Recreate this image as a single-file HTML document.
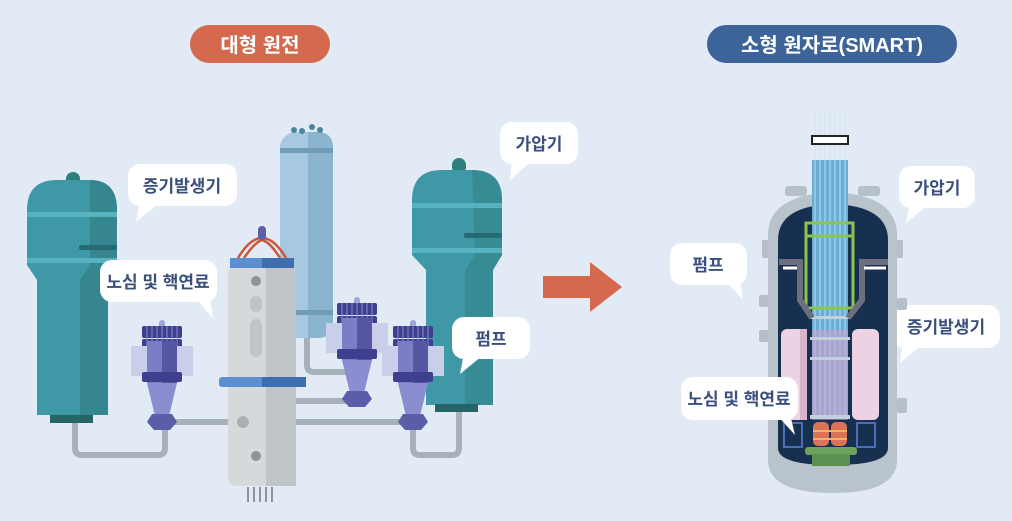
<!DOCTYPE html>
<html><head><meta charset="utf-8"><style>
html,body{margin:0;padding:0;background:#e2ebf5;}
svg{display:block}
text{font-family:"Liberation Sans","Noto Sans CJK KR",sans-serif;font-weight:bold;}
</style></head><body>
<svg width="1012" height="521" viewBox="0 0 1012 521" xmlns="http://www.w3.org/2000/svg">
<defs>
<g id="pump">
<rect x="-3" y="-6" width="6" height="12" rx="3" fill="#9ea5d8"/>
<rect x="-20" y="0" width="40" height="12" rx="2" fill="#3f3f8f"/>
<rect x="-20" y="13" width="40" height="12" rx="2" fill="#3f3f8f"/>
<g stroke="#8a8ed0" stroke-width="1"><path d="M-15 0v25M-10 0v25M-5 0v25M0 0v25M5 0v25M10 0v25M15 0v25"/></g>
<rect x="-31" y="20" width="62" height="30" fill="#c9cfea"/>
<rect x="-15" y="15" width="30" height="42" fill="#7b7ec4"/>
<rect x="0" y="15" width="15" height="42" fill="#5656a3"/>
<rect x="-20" y="46" width="40" height="10" rx="2" fill="#3f3f8f"/>
<path d="M-15 57 H15 L7 90 H-7 Z" fill="#8a8ed0"/>
<path d="M-10 88 H10 L15 96 L8 104 H-8 L-15 96 Z" fill="#5b5da9"/>
</g>
</defs>
<rect width="1012" height="521" fill="#e2ebf5"/>
<!-- title pills -->
<rect x="190" y="25" width="140" height="38" rx="19" fill="#d5694e"/>
<text x="260" y="52" font-size="20" fill="#fff" text-anchor="middle">대형 원전</text>
<rect x="707" y="25" width="250" height="38" rx="19" fill="#3d6498"/>
<text x="832" y="52" font-size="20" fill="#fff" text-anchor="middle">소형 원자로(SMART)</text>

<!-- pipes left -->
<g fill="none" stroke="#a7b1b8" stroke-width="6" stroke-linejoin="round">
<path d="M75 420 V448 Q75 455 82 455 H158 Q165 455 165 448 V420"/>
<path d="M165 422 H245"/>
<path d="M296 422 H413"/>
<path d="M296 401 H357"/>
<path d="M307 335 V365 Q307 372 314 372 H357"/>
<path d="M413 420 V448 Q413 455 420 455 H452 Q459 455 459 448 V405"/>
</g>
<!-- left SG -->
<rect x="66" y="172" width="14" height="16" rx="7" fill="#2d7f80"/>
<path d="M27 210 Q27 180 57 180 H88 Q117 180 117 210 V265 L108 280 V415 H37 V280 L27 265 Z" fill="#3f98a6"/>
<path d="M90 180 Q117 180 117 210 V265 L108 280 V415 H80 V280 L90 265 Z" fill="#35868e"/>
<rect x="27" y="212" width="90" height="5" fill="#57b3c0"/>
<rect x="27" y="258" width="90" height="5" fill="#57b3c0"/>
<rect x="79" y="245" width="38" height="5" rx="2" fill="#286a72"/>
<rect x="50" y="415" width="43" height="8" fill="#256468"/>
<!-- pressurizer -->
<rect x="280" y="132" width="53" height="206" rx="16" fill="#a6c8e0"/>
<path d="M308 132 H317 Q333 132 333 148 V322 Q333 338 317 338 H308 Z" fill="#8bb4cf"/>
<rect x="280" y="148" width="53" height="5" fill="#6e9cb9"/>
<rect x="280" y="310" width="53" height="5" fill="#6e9cb9"/>
<g fill="#4a86a0"><circle cx="294" cy="130" r="3"/><circle cx="302" cy="131" r="3"/><circle cx="312" cy="127" r="3"/><circle cx="320" cy="130" r="3"/></g>
<!-- right SG -->
<rect x="452" y="158" width="14" height="16" rx="7" fill="#2d7f80"/>
<path d="M412 200 Q412 170 442 170 H472 Q502 170 502 200 V255 L493 270 V405 H426 V270 L412 255 Z" fill="#3f98a6"/>
<path d="M472 170 Q502 170 502 200 V255 L493 270 V405 H465 V270 L475 255 Z" fill="#35868e" opacity="0.7"/>
<rect x="412" y="203" width="90" height="5" fill="#57b3c0"/>
<rect x="412" y="248" width="90" height="5" fill="#57b3c0"/>
<rect x="464" y="233" width="38" height="5" rx="2" fill="#286a72"/>
<rect x="435" y="404" width="43" height="8" fill="#256468"/>
<!-- reactor -->
<path d="M238 258 Q250 238 262 238 Q274 238 286 258" fill="none" stroke="#c9573c" stroke-width="2.5"/>
<path d="M244 258 Q255 242 262 240 Q270 242 280 258" fill="none" stroke="#c9573c" stroke-width="2.5"/>
<rect x="258" y="226" width="8" height="14" rx="4" fill="#5e5fa8"/>
<rect x="228" y="266" width="68" height="220" rx="8" fill="#d5d9dc"/>
<rect x="266" y="266" width="30" height="220" fill="#bfc5c9"/>
<rect x="230" y="258" width="64" height="10" fill="#5b8fd0"/>
<rect x="262" y="258" width="32" height="10" fill="#3d6fb0"/>
<rect x="219" y="377" width="87" height="10" rx="3" fill="#5b8fd0"/>
<rect x="262" y="377" width="44" height="10" fill="#3d6fb0"/>
<circle cx="256" cy="281" r="5" fill="#8e9499"/><circle cx="256" cy="456" r="5" fill="#8e9499"/><circle cx="243" cy="422" r="6" fill="#aab0b5"/>
<rect x="250" y="296" width="12" height="16" rx="6" fill="#bfc4c8"/>
<rect x="250" y="319" width="12" height="38" rx="6" fill="#bfc4c8"/>
<g stroke="#8e9499" stroke-width="2"><path d="M248 487v15M254 487v15M260 487v15M266 487v15M272 487v15"/></g>
<!-- pumps -->
<use href="#pump" x="162" y="326"/>
<use href="#pump" x="357" y="303"/>
<use href="#pump" x="413" y="326"/>

<!-- bubbles -->
<g fill="#fff">
<rect x="128" y="164" width="109" height="42" rx="12"/><path d="M140 200 L136 222 L158 204 Z"/>
<rect x="100" y="260" width="117" height="42" rx="12"/><path d="M195 298 L213 318 L210 298 Z"/>
<rect x="500" y="122" width="78" height="42" rx="12"/><path d="M512 158 L510 180 L530 162 Z"/>
<rect x="452" y="317" width="78" height="42" rx="12"/><path d="M464 353 L460 374 L482 356 Z"/>
<rect x="899" y="166" width="76" height="42" rx="12"/><path d="M910 202 L906 223 L928 205 Z"/>
<rect x="670" y="243" width="77" height="42" rx="12"/><path d="M725 280 L743 300 L740 280 Z"/>
<rect x="892" y="305" width="108" height="43" rx="12"/><path d="M903 342 L900 363 L922 345 Z"/>
</g>
<g font-size="17" fill="#3a4f7c" text-anchor="middle">
<text x="182" y="192">증기발생기</text>
<text x="158" y="288">노심 및 핵연료</text>
<text x="539" y="150">가압기</text>
<text x="491" y="345">펌프</text>
<text x="937" y="194">가압기</text>
<text x="708" y="271">펌프</text>
<text x="946" y="333">증기발생기</text>
</g>

<!-- arrow -->
<path d="M543 276 H590 V262 L622 287 L590 312 V298 H543 Z" fill="#d5694e"/>

<!-- SMART vessel -->
<g fill="#b5c0c8">
<rect x="785" y="186" width="22" height="10" rx="3"/><rect x="858" y="186" width="22" height="10" rx="3"/>
<rect x="762" y="240" width="10" height="18" rx="2"/><rect x="893" y="240" width="10" height="18" rx="2"/>
<rect x="759" y="295" width="10" height="12" rx="2"/><rect x="759" y="330" width="10" height="12" rx="2"/>
<rect x="897" y="298" width="10" height="12" rx="2"/><rect x="897" y="398" width="10" height="15" rx="2"/>
</g>
<path d="M768 235 Q768 195 833 192 Q897 195 897 235 V460 Q897 493 833 493 Q768 493 768 460 Z" fill="#b8c3cb"/>
<path d="M778 240 Q778 206 833 204 Q888 206 888 240 V448 Q888 465 833 465 Q778 465 778 448 Z" fill="#183050"/>
<g stroke="#d0e2f2" stroke-width="1"><path d="M815 110V160M820 110V160M825 110V160M830 110V160M835 110V160M840 110V160M845 110V160"/></g>
<rect x="812" y="136" width="36" height="8" fill="#fff" stroke="#222" stroke-width="2"/>
<rect x="812" y="160" width="36" height="255" fill="#6aaed6"/>
<g stroke="#a9d6f2" stroke-width="1.2"><path d="M815 160V415M820 160V415M825 160V415M830 160V415M835 160V415M840 160V415M845 160V415"/></g>
<rect x="812" y="330" width="36" height="90" fill="#d69fc8" opacity="0.55"/>
<g fill="#c3d0dc"><rect x="810" y="316" width="40" height="3"/><rect x="810" y="337" width="40" height="3"/><rect x="810" y="357" width="40" height="3"/><rect x="810" y="415" width="40" height="4"/></g>
<rect x="806" y="223" width="47" height="85" fill="none" stroke="#8cc44f" stroke-width="3"/>
<path d="M806 236 H853" stroke="#8cc44f" stroke-width="3"/>
<path d="M779 262 H800 V300 L812 318 M888 262 H862 V300 L848 318" fill="none" stroke="#6b6f7e" stroke-width="6"/>
<path d="M783 268 H797" stroke="#fff" stroke-width="3"/><path d="M864 268 H886" stroke="#fff" stroke-width="3"/>
<rect x="781" y="329" width="26" height="91" rx="6" fill="#ecd2e2"/>
<rect x="852" y="329" width="27" height="91" rx="6" fill="#ecd2e2"/>
<rect x="800" y="329" width="7" height="91" fill="#d9b4cc"/>
<rect x="784" y="423" width="18" height="24" fill="none" stroke="#4a6fb5" stroke-width="2"/>
<rect x="857" y="423" width="18" height="24" fill="none" stroke="#4a6fb5" stroke-width="2"/>
<rect x="813" y="422" width="16" height="24" rx="5" fill="#dc7358"/>
<rect x="831" y="422" width="16" height="24" rx="5" fill="#dc7358"/>
<rect x="813" y="430" width="34" height="2" fill="#f0b55c"/><rect x="813" y="438" width="34" height="2" fill="#f0b55c"/>
<rect x="805" y="447" width="52" height="8" rx="3" fill="#6ba25c"/>
<rect x="812" y="454" width="38" height="12" fill="#5a9150"/>
<rect x="681" y="377" width="117" height="43" rx="12" fill="#fff"/><path d="M776 414 L795 435 L790 414 Z" fill="#fff"/>
<text x="739" y="405" font-size="17" fill="#3a4f7c" text-anchor="middle">노심 및 핵연료</text>
</svg>
</body></html>
